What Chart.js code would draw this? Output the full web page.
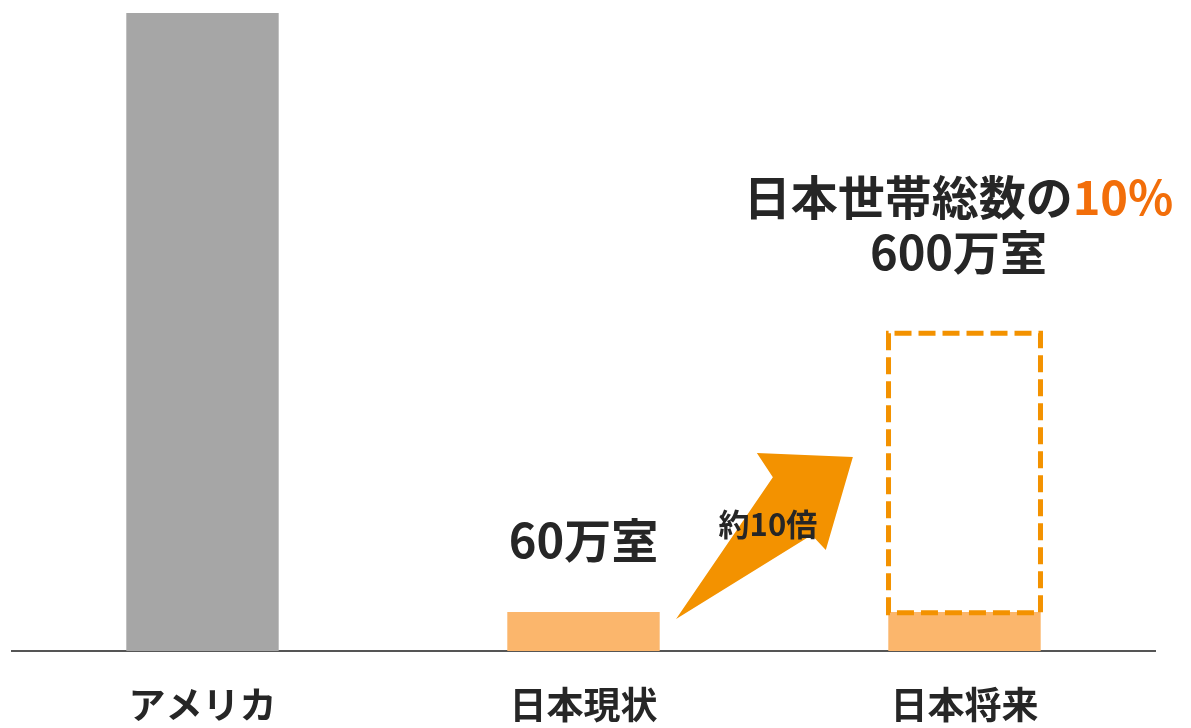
<!DOCTYPE html>
<html><head><meta charset="utf-8">
<script src="https://cdn.jsdelivr.net/npm/chart.js@4.4.1/dist/chart.umd.min.js"></script>
<style>html,body{margin:0;padding:0;background:#fff;}#wrap{width:1191px;height:728px;}</style>
</head><body><div id="wrap"><canvas id="c" width="1191" height="728"></canvas></div>
<script>
const categories = ['アメリカ', '日本現状', '日本将来'];
const actualValues = [980, 60, 60];          // 万室
const targetRange = [null, null, [55, 492]]; // 将来目標（破線枠）
const labelCurrent = '60万室';
const titleMain = '日本世帯総数の';
const titleAccent = '10%';
const titleSub = '600万室';
const arrowLabel = '約10倍';
// arrow polygon in (category index, value) coordinates
const arrowPoints = [[1.243, 49], [1.497, 267], [1.455, 304], [1.707, 298], [1.636, 155], [1.599, 178]];

const FONT = '"Noto Sans CJK JP", "Noto Sans", sans-serif';
const DARK = '#262626';

const overlay = {
  id: 'overlay',
  afterDatasetsDraw(chart) {
    const ctx = chart.ctx;
    const xs = chart.scales.x, ys = chart.scales.y;
    const meta = chart.getDatasetMeta(1);
    meta.data.forEach((el, i) => {
      if (!targetRange[i]) return;
      const p = el.getProps(['x', 'y', 'base', 'width'], true);
      const lw = 5;
      const l = p.x - p.width / 2 + lw / 2, r = p.x + p.width / 2 - lw / 2;
      const t = Math.min(p.y, p.base) + lw / 2, b = Math.max(p.y, p.base) - lw / 2;
      ctx.save();
      ctx.strokeStyle = '#F39200';
      ctx.lineWidth = lw;
      ctx.setLineDash([17, 7]);
      ctx.beginPath();
      ctx.moveTo(l + 6, t); ctx.lineTo(r, t); ctx.lineTo(r, b); ctx.lineTo(l, b); ctx.lineTo(l, t); ctx.lineTo(l + 6, t);
      ctx.stroke();
      ctx.restore();
    });
    ctx.save();
    ctx.fillStyle = '#F39200';
    ctx.beginPath();
    arrowPoints.forEach((pt, k) => {
      const px = xs.getPixelForValue(pt[0]), py = ys.getPixelForValue(pt[1]);
      if (k === 0) ctx.moveTo(px, py); else ctx.lineTo(px, py);
    });
    ctx.closePath();
    ctx.fill();
    ctx.restore();

    ctx.save();
    ctx.textAlign = 'center';
    ctx.textBaseline = 'middle';
    ctx.fillStyle = DARK;
    ctx.font = 'bold 31px ' + FONT;
    ctx.fillText(arrowLabel, xs.getPixelForValue(1.484), ys.getPixelForValue(195));
    ctx.font = 'bold 47px ' + FONT;
    ctx.fillText(labelCurrent, xs.getPixelForValue(1), ys.getPixelForValue(actualValues[1]) - 72);
    const cx = xs.getPixelForValue(2) - 6;
    const topY = ys.getPixelForValue(targetRange[2][1]);
    ctx.font = 'bold 47px ' + FONT;
    const w1 = ctx.measureText(titleMain).width, w2 = ctx.measureText(titleAccent).width;
    const startX = cx - (w1 + w2) / 2;
    ctx.textAlign = 'left';
    ctx.fillText(titleMain, startX, topY - 134);
    ctx.fillStyle = '#F26E0A';
    ctx.fillText(titleAccent, startX + w1, topY - 134);
    ctx.fillStyle = DARK;
    ctx.textAlign = 'center';
    ctx.fillText(titleSub, cx, topY - 79);
    ctx.restore();
  }
};

new Chart(document.getElementById('c'), {
  type: 'bar',
  data: {
    labels: categories,
    datasets: [
      {
        data: actualValues,
        backgroundColor: ['#A6A6A6', '#FBB66C', '#FBB66C'],
        barPercentage: 0.4,
        categoryPercentage: 1,
        order: 2
      },
      {
        data: targetRange,
        backgroundColor: 'rgba(0,0,0,0)',
        borderWidth: 0,
        barPercentage: 0.412,
        categoryPercentage: 1,
        order: 1
      }
    ]
  },
  plugins: [overlay],
  options: {
    responsive: false,
    animation: false,
    layout: { padding: { left: 12, right: 36, top: 13, bottom: 2 } },
    plugins: { legend: { display: false }, tooltip: { enabled: false } },
    scales: {
      x: {
        stacked: true,
        grid: { display: false, drawTicks: false },
        border: { display: true, color: '#555555', width: 2 },
        ticks: { color: DARK, font: { family: FONT, size: 37, weight: 'bold' }, padding: 32 },
        afterFit(scale) { scale.height = 75; }
      },
      y: {
        display: false,
        stacked: false,
        min: 0,
        max: 980
      }
    }
  }
});
</script>
</body></html>
